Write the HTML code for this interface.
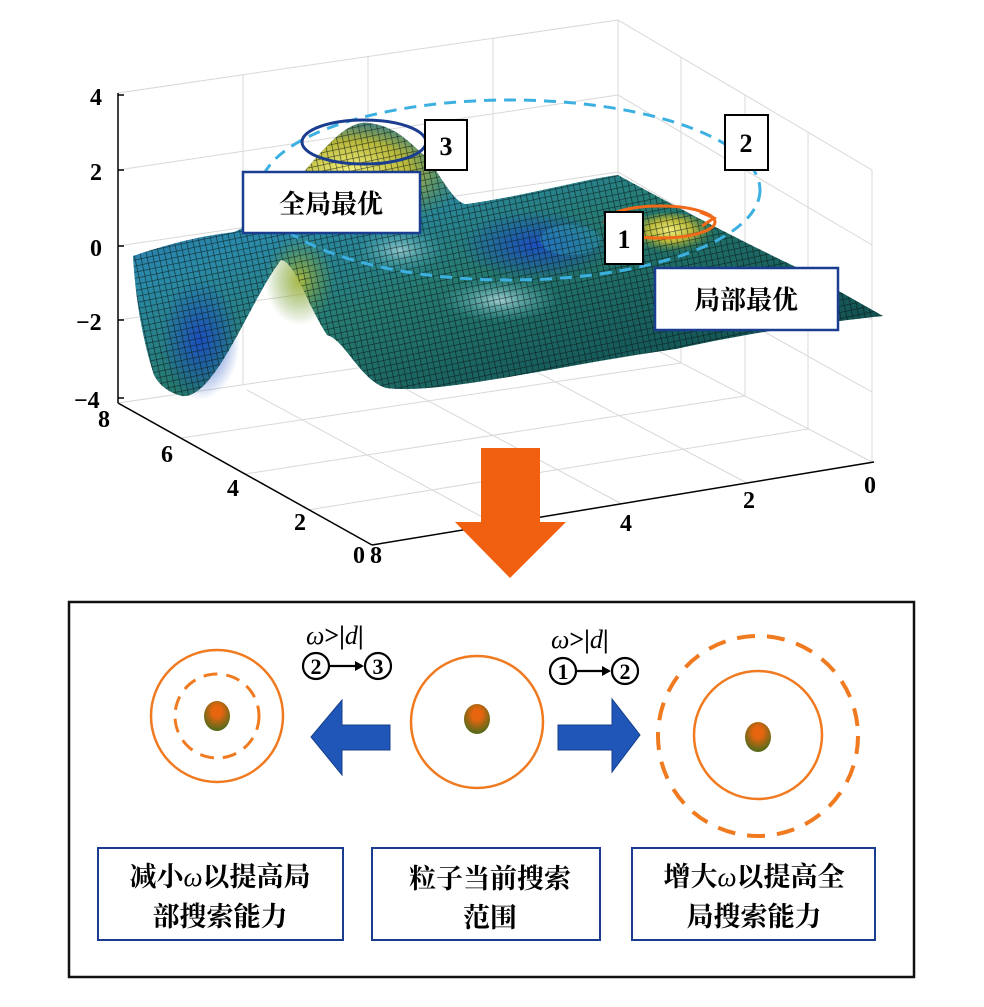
<!DOCTYPE html>
<html><head><meta charset="utf-8">
<style>
html,body{margin:0;padding:0;background:#fff;}
body{width:984px;height:1002px;overflow:hidden;}
svg text{font-family:"Liberation Serif","Noto Serif CJK SC",serif;}
.cjk{font-family:"Liberation Serif","Noto Serif CJK SC","Noto Sans CJK SC",serif;font-weight:bold;}
</style></head>
<body>
<svg width="984" height="1002" viewBox="0 0 984 1002" xmlns="http://www.w3.org/2000/svg">
<defs>
<linearGradient id="surf" x1="0" y1="0" x2="1" y2="1">
<stop offset="0" stop-color="#2a5fb0"/>
<stop offset="0.3" stop-color="#2a8aa8"/>
<stop offset="0.5" stop-color="#267a70"/>
<stop offset="0.75" stop-color="#165a5a"/>
<stop offset="1" stop-color="#124a4a"/>
</linearGradient>
<radialGradient id="peak" cx="0.5" cy="0.4" r="0.5">
<stop offset="0" stop-color="#f5f07a"/>
<stop offset="0.5" stop-color="#b8b83a"/>
<stop offset="1" stop-color="#5a8a3a" stop-opacity="0"/>
</radialGradient>
<radialGradient id="valley" cx="0.5" cy="0.5" r="0.5">
<stop offset="0" stop-color="#1c4fc0"/>
<stop offset="1" stop-color="#1c4fc0" stop-opacity="0"/>
</radialGradient>
<radialGradient id="ridge" cx="0.5" cy="0.5" r="0.5">
<stop offset="0" stop-color="#a8b840"/>
<stop offset="1" stop-color="#6a9a40" stop-opacity="0"/>
</radialGradient>
<radialGradient id="light" cx="0.5" cy="0.5" r="0.5">
<stop offset="0" stop-color="#d8f4f8"/>
<stop offset="1" stop-color="#60c8d8" stop-opacity="0"/>
</radialGradient>
<radialGradient id="dot" cx="0.5" cy="0.35" r="0.6">
<stop offset="0.3" stop-color="#e8650f"/>
<stop offset="1" stop-color="#5a6a1a"/>
</radialGradient>
<pattern id="mesh" width="6" height="6" patternUnits="userSpaceOnUse" patternTransform="rotate(-12)">
<path d="M0 0H6M0 0V6" stroke="#061212" stroke-width="1.3" opacity="0.75"/>
</pattern>
</defs>

<g stroke="#d8d8d8" stroke-width="1" fill="none">
<polyline points="118,93 618,20 872,170 872,462"/>
<line x1="618" y1="20" x2="618" y2="330"/>
<line x1="118" y1="403" x2="618" y2="330"/>
<line x1="618" y1="330" x2="872" y2="462"/>
<line x1="118" y1="170" x2="618" y2="95"/><line x1="618" y1="95" x2="872" y2="245"/>
<line x1="118" y1="246" x2="618" y2="172"/><line x1="618" y1="172" x2="872" y2="320"/>
<line x1="118" y1="320" x2="618" y2="250"/><line x1="618" y1="250" x2="872" y2="392"/>
<line x1="243" y1="75" x2="243" y2="385"/><line x1="368" y1="57" x2="368" y2="367"/><line x1="493" y1="38" x2="493" y2="348"/>
<line x1="681" y1="57" x2="681" y2="363"/><line x1="745" y1="95" x2="745" y2="396"/><line x1="808" y1="132" x2="808" y2="429"/>
<line x1="181" y1="438" x2="681" y2="363"/><line x1="245" y1="474" x2="745" y2="396"/><line x1="308" y1="510" x2="808" y2="429"/>
<line x1="247" y1="390" x2="497" y2="525"/><line x1="370" y1="370" x2="622" y2="504"/><line x1="495" y1="350" x2="747" y2="483"/>
</g>

<path d="M133,256 C180,240 210,235 234,232 C290,210 330,118 368,123 C400,126 415,150 426,156 C440,175 455,205 467,204 C530,195 580,180 618,175 C700,220 760,250 798,268 L883,316 C800,325 740,335 676,349 C560,365 440,395 386,388 C360,380 345,340 327,335 C305,300 295,262 281,260 C250,300 215,400 182,396 C165,392 155,380 153,372 C140,330 135,290 133,256 Z" fill="url(#surf)"/>
<ellipse cx="535" cy="245" rx="75" ry="35" fill="url(#valley)"/>
<ellipse cx="200" cy="340" rx="40" ry="60" fill="url(#valley)"/>
<path d="M234,232 C290,210 330,118 368,123 C400,126 415,150 426,156 C440,175 455,205 467,204 C460,240 420,250 380,240 C330,230 280,250 234,232Z" fill="url(#peak)"/>
<ellipse cx="670" cy="235" rx="45" ry="22" fill="url(#peak)"/>
<ellipse cx="300" cy="280" rx="35" ry="45" fill="url(#ridge)"/>
<ellipse cx="500" cy="300" rx="60" ry="22" fill="url(#light)" opacity="0.7"/>
<ellipse cx="400" cy="250" rx="45" ry="22" fill="url(#light)" opacity="0.6"/>
<ellipse cx="570" cy="240" rx="30" ry="15" fill="#30a0c0" opacity="0.4"/>
<path d="M133,256 C180,240 210,235 234,232 C290,210 330,118 368,123 C400,126 415,150 426,156 C440,175 455,205 467,204 C530,195 580,180 618,175 C700,220 760,250 798,268 L883,316 C800,325 740,335 676,349 C560,365 440,395 386,388 C360,380 345,340 327,335 C305,300 295,262 281,260 C250,300 215,400 182,396 C165,392 155,380 153,372 C140,330 135,290 133,256 Z" fill="url(#mesh)"/>

<g stroke="#000" stroke-width="1.5" fill="none">
<line x1="118" y1="93" x2="118" y2="403"/>
<line x1="118" y1="403" x2="372" y2="545"/>
<line x1="372" y1="545" x2="874" y2="462"/>
<line x1="118" y1="95" x2="124" y2="95"/><line x1="118" y1="170" x2="124" y2="170"/><line x1="118" y1="246" x2="124" y2="246"/><line x1="118" y1="320" x2="124" y2="320"/><line x1="118" y1="398" x2="124" y2="398"/>
</g>
<g font-size="24" fill="#000" font-weight="bold">
<text x="90" y="105">4</text><text x="90" y="180">2</text><text x="90" y="256">0</text><text x="76" y="330">−2</text><text x="74" y="408">−4</text>
<text x="98" y="427">8</text><text x="161" y="462">6</text><text x="227" y="496">4</text><text x="294" y="530">2</text><text x="353" y="563">0</text><text x="370" y="563">8</text>
<text x="620" y="531">4</text><text x="743" y="508">2</text><text x="864" y="493">0</text>
</g>

<ellipse cx="510" cy="190" rx="250" ry="90" fill="none" stroke="#3cb0e0" stroke-width="3" stroke-dasharray="12,8"/>
<ellipse cx="364" cy="142" rx="62" ry="22" fill="none" stroke="#1b3d8f" stroke-width="3"/>
<ellipse cx="660" cy="222" rx="55" ry="16" fill="none" stroke="#f06a1a" stroke-width="3"/>
<path d="M700,212 l14,6 -12,8" fill="none" stroke="#f06a1a" stroke-width="3"/>
<g stroke="#000" stroke-width="2" fill="#fff">
<rect x="425" y="120" width="42" height="50"/>
<rect x="725" y="115" width="43" height="55"/>
<rect x="605" y="212" width="38" height="52"/>
</g>
<g font-size="26" fill="#000" text-anchor="middle" font-weight="bold">
<text x="446" y="155">3</text><text x="746" y="152">2</text><text x="624" y="248">1</text>
</g>
<rect x="243" y="172" width="177" height="61" fill="#fff" stroke="#1b3d8f" stroke-width="2.5"/>
<text x="331" y="213" class="cjk" font-size="26" text-anchor="middle">全局最优</text>
<rect x="655" y="268" width="183" height="62" fill="#fff" stroke="#1b3d8f" stroke-width="2.5"/>
<text x="746" y="309" class="cjk" font-size="26" text-anchor="middle">局部最优</text>

<polygon points="481,448 540,448 540,522 566,522 510,578 455,522 481,522" fill="#f06010"/>

<rect x="69" y="602" width="845" height="375" fill="none" stroke="#111" stroke-width="2.5"/>

<circle cx="217" cy="716" r="66" fill="none" stroke="#f07a20" stroke-width="2.5"/>
<circle cx="217" cy="716" r="42" fill="none" stroke="#f07a20" stroke-width="3" stroke-dasharray="14,9"/>
<ellipse cx="217" cy="716" rx="13" ry="15" fill="url(#dot)"/>

<circle cx="477" cy="722" r="66" fill="none" stroke="#f07a20" stroke-width="2.5"/>
<ellipse cx="477" cy="719" rx="13" ry="15" fill="url(#dot)"/>

<circle cx="758" cy="735" r="64" fill="none" stroke="#f07a20" stroke-width="2.5"/>
<circle cx="758" cy="736" r="100" fill="none" stroke="#f07a20" stroke-width="4" stroke-dasharray="18,12"/>
<ellipse cx="758" cy="737" rx="13" ry="15" fill="url(#dot)"/>

<polygon points="390,725 342,725 342,700 311,737 342,775 342,750 390,750" fill="#1f56b8" stroke="#163f8a" stroke-width="1"/>
<polygon points="558,725 612,725 612,699 640,735 612,772 612,750 558,750" fill="#1f56b8" stroke="#163f8a" stroke-width="1"/>

<g font-size="26" fill="#000">
<text x="306" y="644"><tspan font-style="italic">ω</tspan><tspan font-weight="bold">&gt;|</tspan><tspan font-style="italic">d</tspan><tspan font-weight="bold">|</tspan></text>
<text x="551" y="648"><tspan font-style="italic">ω</tspan><tspan font-weight="bold">&gt;|</tspan><tspan font-style="italic">d</tspan><tspan font-weight="bold">|</tspan></text>
</g>
<g fill="none" stroke="#000" stroke-width="2.2">
<circle cx="316" cy="666" r="13"/><circle cx="378" cy="666" r="13"/>
<circle cx="563" cy="671" r="13"/><circle cx="625" cy="671" r="13"/>
<line x1="330" y1="666" x2="358" y2="666"/><line x1="577" y1="671" x2="605" y2="671"/>
</g>
<g fill="#000">
<polygon points="364,666 355,661 355,671"/><polygon points="611,671 602,666 602,676"/>
</g>
<g font-size="22" font-weight="bold" fill="#000" text-anchor="middle">
<text x="316" y="674">2</text><text x="378" y="674">3</text>
<text x="563" y="679">1</text><text x="625" y="679">2</text>
</g>

<g fill="#fff" stroke="#1b3d8f" stroke-width="2">
<rect x="98" y="848" width="245" height="92"/>
<rect x="372" y="848" width="228" height="92"/>
<rect x="632" y="848" width="243" height="92"/>
</g>
<g class="cjk" font-size="27" fill="#000" text-anchor="middle">
<text x="220" y="886">减小<tspan font-style="italic" font-weight="normal">ω</tspan>以提高局</text>
<text x="220" y="926">部搜索能力</text>
<text x="490" y="888">粒子当前搜索</text>
<text x="490" y="927">范围</text>
<text x="754" y="886">增大<tspan font-style="italic" font-weight="normal">ω</tspan>以提高全</text>
<text x="754" y="926">局搜索能力</text>
</g>
</svg>
</body></html>
